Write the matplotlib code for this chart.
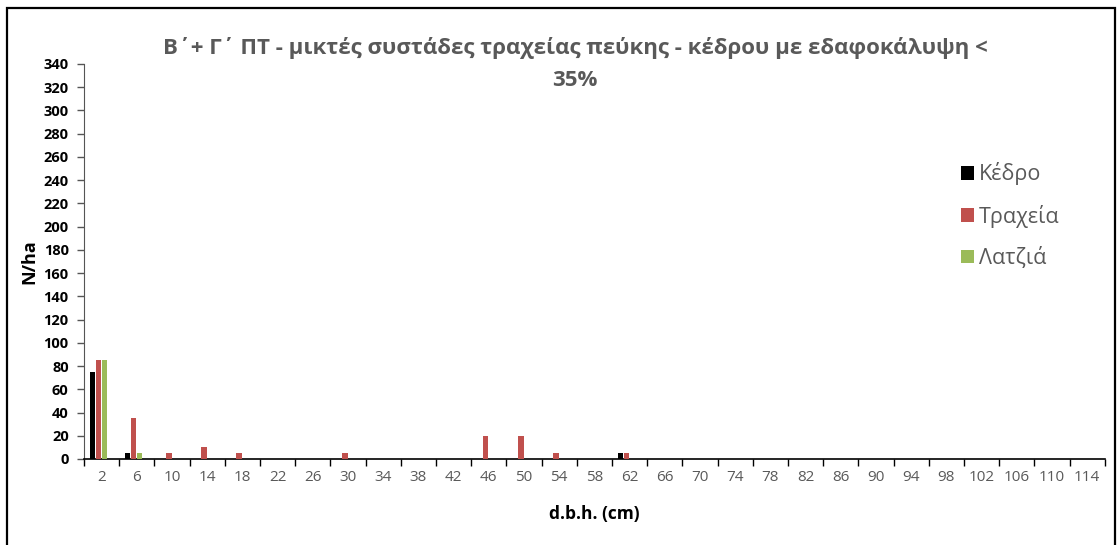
import matplotlib
matplotlib.use("Agg")
import matplotlib.pyplot as plt
import numpy as np
from matplotlib.patches import Rectangle

categories = [str(v) for v in range(2, 115, 4)]
kedro = [75, 5, 0, 0, 0, 0, 0, 0, 0, 0, 0, 0, 0, 0, 0, 5] + [0] * 13
trachia = [85, 35, 5, 10, 5, 0, 0, 5, 0, 0, 0, 20, 20, 5, 0, 5] + [0] * 13
latzia = [85, 5] + [0] * 27
series_names = ["Κέδρο", "Τραχεία", "Λατζιά"]
colors = ["#000000", "#C0504D", "#9BBB59"]

plt.rcParams['font.family'] = ['Open Sans', 'DejaVu Sans']

fig = plt.figure(figsize=(11.17, 5.45), dpi=100)
ax = fig.add_axes([0.0752, 0.1578, 0.9138, 0.7248])

x = np.arange(len(categories))
w = 0.16
offs = [-0.26, -0.09, 0.08]
for vals, off, c, name in zip([kedro, trachia, latzia], offs, colors, series_names):
    ax.bar(x + off, vals, width=w, color=c, label=name, zorder=3)

ax.set_xlim(-0.5, len(categories) - 0.5)
ax.set_ylim(0, 340)
ax.set_yticks(range(0, 341, 20))
ax.set_yticklabels([str(v) for v in range(0, 341, 20)], fontweight='bold', fontsize=10.5, color='#000000')
ax.set_xticks(x)
ax.set_xticklabels(categories, fontsize=11, color='#595959')
ax.set_xticks(np.arange(-0.5, len(categories)), minor=True)
ax.tick_params(axis='x', which='major', length=0, pad=8)
ax.tick_params(axis='x', which='minor', length=5, width=1, color='black', direction='out')
ax.tick_params(axis='y', length=5, width=1, direction='out', color='#555555', pad=6)
for s in ['top', 'right']:
    ax.spines[s].set_visible(False)
ax.spines['left'].set_color('#555555')
ax.spines['bottom'].set_color('black')
ax.spines['bottom'].set_linewidth(1.2)

ax.set_ylabel("N/ha", fontweight='bold', fontsize=13, labelpad=4)
ax.set_xlabel("d.b.h. (cm)", fontweight='bold', fontsize=12.5, labelpad=14)

fig.text(0.515, 1 - 48 / 545, "Β΄+ Γ΄ ΠΤ - μικτές συστάδες τραχείας πεύκης - κέδρου με εδαφοκάλυψη <",
         ha='center', va='center', fontsize=16, fontweight='bold', color='#595959')
fig.text(0.515, 1 - 80 / 545, "35%",
         ha='center', va='center', fontsize=16, fontweight='bold', color='#595959')

leg = ax.legend(loc='upper left', bbox_to_anchor=(0.84, 0.80), frameon=False, fontsize=15.5,
                handlelength=0.6, handleheight=0.6, handletextpad=0.25, labelspacing=0.9)
for t in leg.get_texts():
    t.set_color('#595959')

fig.patches.append(Rectangle((7 / 1117, -0.05), 1108 / 1117, 1.05 - 8 / 545, transform=fig.transFigure,
                             fill=False, edgecolor='black', linewidth=1.6))

fig.savefig("out.png", dpi=100)
